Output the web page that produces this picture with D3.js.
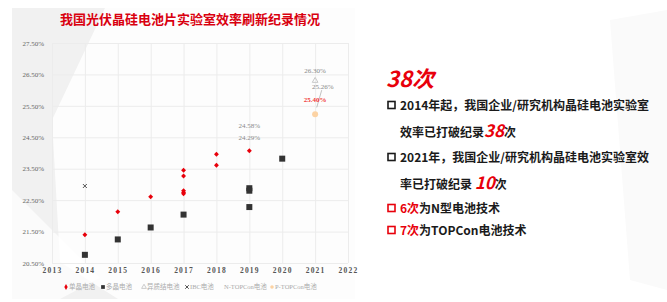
<!DOCTYPE html>
<html>
<head>
<meta charset="utf-8">
<script src="https://cdn.jsdelivr.net/npm/d3@7"></script>
<style>
  body { margin: 0; background: #fff; }
  svg { display: block; }
</style>
</head>
<body>
<div id="chart"></div>
<script>
// axis ticks
const yearTicks = [2013, 2014, 2015, 2016, 2017, 2018, 2019, 2020, 2021, 2022]
const effTicks = [20.5, 21.5, 22.5, 23.5, 24.5, 25.5, 26.5, 27.5]

// series
const monoYears = [2014, 2015, 2016, 2017, 2017, 2017, 2017, 2017, 2018, 2018, 2019]
const monoEff = [21.40, 22.13, 22.61, 23.45, 23.27, 22.80, 22.74, 22.70, 23.96, 23.61, 24.07]
const multiYears = [2014, 2015, 2016, 2017, 2019, 2019, 2019, 2020]
const multiEff = [20.76, 21.25, 21.63, 22.04, 22.88, 22.80, 22.28, 23.82]
const hjtYears = [2021]
const hjtEff = [26.30]
const ibcYears = [2014]
const ibcEff = [22.95]
const pTopconYears = [2021]
const pTopconEff = [25.23]

// value labels
const noteText = ['24.58%', '24.29%', '26.30%', '25.26%', '25.40%']
const noteYear = [2019, 2019, 2021, 2021.23, 2021]
const noteEff = [24.88, 24.49, 26.62, 26.13, 25.69]
const noteRed = [false, false, false, false, true]

const legendNames = ['单晶电池', '多晶电池', '异质结电池', 'IBC电池', 'N-TOPCon电池', 'P-TOPCon电池']

let width = 667
let height = 302

let svg = d3.select('#chart')
  .append('svg')
  .attr('width', width)
  .attr('height', height)

// background panel
svg.append('rect').attr('x', 12).attr('y', 8).attr('width', 343).attr('height', 291).attr('fill', '#f1f1f1')
svg.append('path')
  .attr('d', 'M105,8 L355,8 L355,299 L118,299 L60,262 L52,120 Z')
  .attr('fill', '#fff').attr('opacity', 0.85)
svg.append('path')
  .attr('d', 'M12,190 L12,299 L60,299 L100,278 Z')
  .attr('fill', '#fff').attr('opacity', 0.7)
svg.append('path')
  .attr('d', 'M610,20 L667,10 L667,290 L630,280 Z')
  .attr('fill', '#fafafa')

let x = d3.scaleLinear().domain([2013, 2022]).range([52, 348])
let y = d3.scaleLinear().domain([20.5, 27.5]).range([263, 43])

// gridlines
svg.append('g')
  .attr('transform', 'translate(0,263)')
  .call(d3.axisBottom(x).tickValues(yearTicks).tickSize(-220).tickFormat(''))
  .call(g => g.select('.domain').remove())
  .call(g => g.selectAll('line').attr('stroke', '#ececec'))
svg.append('g')
  .attr('transform', 'translate(52,0)')
  .call(d3.axisLeft(y).tickValues(effTicks).tickSize(-296).tickFormat(''))
  .call(g => g.select('.domain').remove())
  .call(g => g.selectAll('line').attr('stroke', '#ececec'))

// axis labels
svg.append('g')
  .attr('transform', 'translate(52,0)')
  .call(d3.axisLeft(y).tickValues(effTicks).tickSize(0).tickPadding(8).tickFormat(d => d.toFixed(2) + '%'))
  .call(g => g.select('.domain').remove())
  .call(g => g.selectAll('text')
    .attr('font-family', 'Liberation Serif')
    .attr('font-size', 7)
    .attr('fill', '#666'))

svg.append('g')
  .attr('transform', 'translate(0,263)')
  .call(d3.axisBottom(x).tickValues(yearTicks).tickSize(0).tickPadding(5).tickFormat(d3.format('d')))
  .call(g => g.select('.domain').remove())
  .call(g => g.selectAll('text')
    .attr('font-family', 'Liberation Serif')
    .attr('font-size', 7.5)
    .attr('font-weight', 'bold')
    .attr('letter-spacing', 1.2)
    .attr('fill', '#555'))

let pts = (xs, ys) => xs.map((d, i) => ({ year: d, eff: ys[i] }))

// 单晶
svg.selectAll('.mono')
  .data(pts(monoYears, monoEff))
  .enter()
  .append('path')
  .attr('class', 'mono')
  .attr('d', d3.symbol().type(d3.symbolSquare).size(12))
  .attr('transform', d => `translate(${x(d.year)},${y(d.eff)}) rotate(45)`)
  .attr('fill', '#e8000b')

// 多晶
svg.selectAll('.multi')
  .data(pts(multiYears, multiEff))
  .enter()
  .append('rect')
  .attr('class', 'multi')
  .attr('x', d => x(d.year) - 3)
  .attr('y', d => y(d.eff) - 3)
  .attr('width', 6)
  .attr('height', 6)
  .attr('fill', '#333')

// 异质结
svg.selectAll('.hjt')
  .data(pts(hjtYears, hjtEff))
  .enter()
  .append('path')
  .attr('d', d3.symbol().type(d3.symbolTriangle).size(14))
  .attr('transform', d => `translate(${x(d.year)},${y(d.eff)})`)
  .attr('fill', 'none')
  .attr('stroke', '#c8c8c8')

// IBC
svg.selectAll('.ibc')
  .data(pts(ibcYears, ibcEff))
  .enter()
  .append('path')
  .attr('d', d3.symbol().type(d3.symbolX).size(12))
  .attr('transform', d => `translate(${x(d.year)},${y(d.eff)})`)
  .attr('fill', 'none')
  .attr('stroke', '#555')
  .attr('stroke-width', 1)

// P-TOPCon
svg.selectAll('.ptop')
  .data(pts(pTopconYears, pTopconEff))
  .enter()
  .append('circle')
  .attr('cx', d => x(d.year))
  .attr('cy', d => y(d.eff))
  .attr('r', 3)
  .attr('fill', '#fcd3a4')

// leader line for 25.26%
svg.append('line')
  .attr('x1', x(2021.2)).attr('y1', y(26.0))
  .attr('x2', x(2021.05)).attr('y2', y(25.45))
  .attr('stroke', '#999').attr('stroke-width', 0.6)

svg.selectAll('.note')
  .data(noteText)
  .enter()
  .append('text')
  .attr('class', 'note')
  .attr('x', (d, i) => x(noteYear[i]))
  .attr('y', (d, i) => y(noteEff[i]))
  .attr('dy', '0.35em')
  .attr('text-anchor', 'middle')
  .attr('font-family', 'Liberation Serif')
  .attr('font-size', 7)
  .attr('font-weight', (d, i) => noteRed[i] ? 'bold' : 'normal')
  .attr('fill', (d, i) => noteRed[i] ? '#f03c3c' : '#888')
  .text(d => d)

// legend
let legendX = [66, 103, 144, 187, 221, 272]
let legend = svg.selectAll('.legend')
  .data(legendNames)
  .enter()
  .append('g')
  .attr('class', 'legend')
  .attr('transform', (d, i) => `translate(${legendX[i]},287)`)

legend.append('path')
  .attr('d', (d, i) => {
    let types = [d3.symbolDiamond, d3.symbolSquare, d3.symbolTriangle, d3.symbolX, null, d3.symbolCircle]
    return types[i] ? d3.symbol().type(types[i]).size(i === 1 ? 14 : 10)() : ''
  })
  .attr('fill', (d, i) => ['#e8000b', '#333', 'none', 'none', 'none', '#fcd3a4'][i])
  .attr('stroke', (d, i) => ['none', 'none', '#ccc', '#555', 'none', 'none'][i])

legend.append('text')
  .attr('x', 3)
  .attr('dy', '0.35em')
  .attr('font-family', 'Liberation Serif, Noto Sans CJK SC')
  .attr('font-size', 6.5)
  .attr('fill', '#aaa')
  .text(d => d)

// title
svg.append('text')
  .attr('x', 190)
  .attr('y', 24)
  .attr('text-anchor', 'middle')
  .attr('font-family', 'Noto Sans CJK SC')
  .attr('font-weight', 'bold')
  .attr('font-size', 13)
  .attr('fill', '#d9000f')
  .text('我国光伏晶硅电池片实验室效率刷新纪录情况')

// right side text
let red = '#e8000b'
let ink = '#1a1a1a'
let side = svg.append('g').attr('font-family', 'Noto Sans CJK SC').attr('font-weight', 'bold')

side.append('text')
  .attr('x', 386).attr('y', 87)
  .attr('font-size', 22).attr('font-style', 'italic')
  .attr('fill', red)
  .text('38次')

let lines = [
  { y: 110, box: ink, parts: [['2014年起，我国企业/研究机构晶硅电池实验室', ink]] },
  { y: 137, parts: [['效率已打破纪录', ink], ['38', red, true], ['次', ink]] },
  { y: 162, box: ink, parts: [['2021年，我国企业/研究机构晶硅电池实验室效', ink]] },
  { y: 189, parts: [['率已打破纪录 ', ink], ['10', red, true], ['次', ink]] },
  { y: 213, box: red, parts: [['6次', red], ['为N型电池技术', ink]] },
  { y: 235, box: red, parts: [['7次', red], ['为TOPCon电池技术', ink]] }
]

lines.forEach(l => {
  if (l.box) {
    side.append('rect')
      .attr('x', 388).attr('y', l.y - 8.5)
      .attr('width', 7).attr('height', 7)
      .attr('fill', 'none').attr('stroke', l.box).attr('stroke-width', 1.6)
  }
  let t = side.append('text').attr('x', 400).attr('y', l.y).attr('font-size', 12)
  l.parts.forEach(p => {
    t.append('tspan')
      .attr('fill', p[1])
      .attr('font-size', p[2] ? 17 : 12)
      .attr('font-style', p[2] ? 'italic' : 'normal')
      .text(p[0])
  })
})
</script>
</body>
</html>
